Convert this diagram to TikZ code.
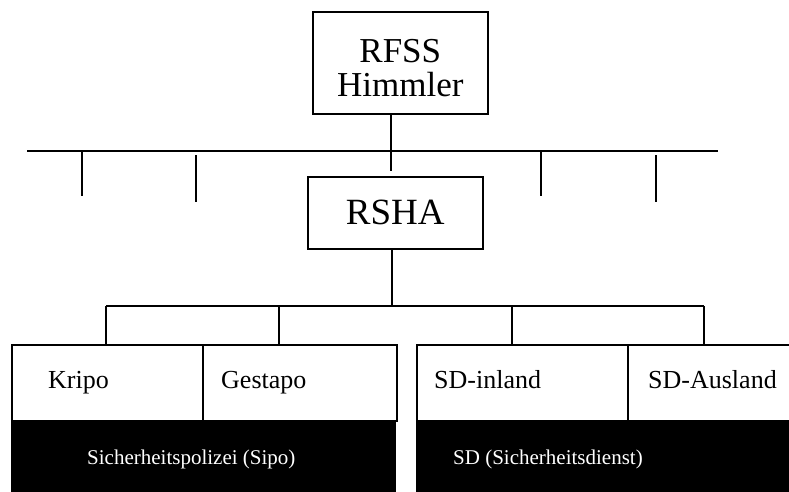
\documentclass[tikz,border=0pt]{standalone}
\usepackage{fontspec}
\setmainfont{Liberation Serif}
\usetikzlibrary{positioning}
\tikzset{
  box/.style={draw, line width=1.6pt, anchor=north west, inner sep=0pt},
  unit/.style={box, minimum height=76pt},
  band/.style={fill=black, anchor=north west, inner sep=0pt, minimum height=80pt},
  unitlabel/.style={inner sep=0pt, anchor=base west, font=\fontsize{26}{30}\selectfont},
  bandlabel/.style={inner sep=0pt, anchor=base west, text=white, font=\fontsize{21}{25}\selectfont},
  link/.style={line width=1.6pt},
}
\begin{document}
\begin{tikzpicture}[x=1pt, y=-1pt]
  \useasboundingbox (0,0) rectangle (789,492);

  % top
  \node[box, minimum width=175pt, minimum height=102pt] (rfss) at (312,11) {};
  \node[align=center, inner sep=0pt, font=\fontsize{35}{34}\selectfont]
    (rfss text) at ([yshift=-5pt]rfss.center) {RFSS\\Himmler};
  \node[box, minimum width=175pt, minimum height=72pt,
        font=\fontsize{37}{40}\selectfont] (rsha) at (307,176) {RSHA};

  \coordinate (bar west) at (27,151);
  \coordinate (bar east) at (718,151);
  \coordinate (hub) at (391,171);
  \draw[link] (bar west) -- (bar east);
  \draw[link] (rfss.south -| hub) -- (hub);

  \foreach \x/\a/\b in {82/151/196, 196/155/202, 541/151/196, 656/155/202} {
    \coordinate (tick top) at (\x,\a);
    \coordinate (tick end) at (\x,\b);
    \draw[link] (tick top) -- (tick end);
  }

  % offices
  \node[unit, minimum width=191pt] (kripo) at (11,344) {};
  \node[unit, minimum width=194pt] (gestapo) at (202,344) {};
  \node[unit, minimum width=211pt] (sdin) at (416,344) {};
  \node[unit, minimum width=180pt] (sdaus) at (627,344) {};

  \node[unitlabel] (kripo text) at ([xshift=37pt, yshift=-44pt]kripo.north west) {Kripo};
  \node[unitlabel] (gestapo text) at ([xshift=19pt, yshift=-44pt]gestapo.north west) {Gestapo};
  \node[unitlabel] (sdin text) at ([xshift=18pt, yshift=-44pt]sdin.north west) {SD-inland};
  \node[unitlabel] (sdaus text) at ([xshift=21pt, yshift=-44pt]sdaus.north west) {SD-Ausland};

  \node[band, minimum width=385pt] (sipo) at (11,420) {};
  \node[band, minimum width=380pt] (sd) at (416,420) {};
  \node[bandlabel] (sipo text) at ([xshift=76pt, yshift=-44pt]sipo.north west) {Sicherheitspolizei (Sipo)};
  \node[bandlabel] (sd text) at ([xshift=37pt, yshift=-44pt]sd.north west) {SD (Sicherheitsdienst)};

  % branches
  \coordinate (branch) at (392,306);
  \coordinate (branch west) at (106,306);
  \coordinate (branch east) at (704,306);
  \draw[link] (rsha.south -| branch) -- (branch);
  \draw[link] (branch west) -- (branch east);
  \foreach \x/\unit in {106/kripo, 279/gestapo, 512/sdin, 704/sdaus} {
    \coordinate (drop) at (\x,306);
    \draw[link] (drop) -- (drop |- \unit.north);
  }
\end{tikzpicture}
\end{document}
